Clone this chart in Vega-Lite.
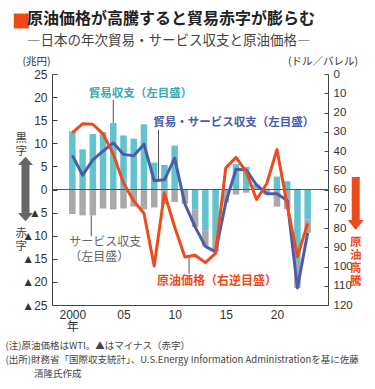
{
"$schema": "https://vega.github.io/schema/vega-lite/v6.json",
"width": 276,
"height": 231,
"autosize": {"type": "none"},
"padding": {"left": 52, "top": 74, "right": 47, "bottom": 84},
"background": "#ffffff",
"config": {
  "view": {"stroke": null},
  "font": "Noto Sans CJK JP",
  "axis": {"grid": false, "labelFont": "Liberation Sans, Noto Sans CJK JP", "titleFont": "Noto Sans CJK JP", "domainColor": "#444444", "tickColor": "#444444", "labelColor": "#333333", "titleColor": "#333333", "labelOverlap": false}
},
"title": {
  "text": "原油価格が高騰すると貿易赤字が膨らむ",
  "subtitle": "―日本の年次貿易・サービス収支と原油価格―",
  "anchor": "start", "frame": "group", "dx": -25, "offset": -34,
  "font": "Noto Sans CJK JP", "fontSize": 16, "fontWeight": "bold", "color": "#222222",
  "subtitleFont": "Noto Sans CJK JP", "subtitleFontSize": 13.5, "subtitleColor": "#444444", "subtitlePadding": 7
},
"datasets": {
  "bop": [
    {"year": 2000, "trade": 12.6, "services": -5.3, "total": 7.4, "oil": 30.4},
    {"year": 2001, "trade": 8.7, "services": -5.6, "total": 3.1, "oil": 25.9},
    {"year": 2002, "trade": 12.0, "services": -5.6, "total": 6.4, "oil": 26.1},
    {"year": 2003, "trade": 12.4, "services": -4.1, "total": 8.3, "oil": 31.1},
    {"year": 2004, "trade": 14.4, "services": -4.3, "total": 10.1, "oil": 41.5},
    {"year": 2005, "trade": 11.7, "services": -4.1, "total": 7.6, "oil": 56.6},
    {"year": 2006, "trade": 11.0, "services": -3.7, "total": 7.3, "oil": 66.0},
    {"year": 2007, "trade": 14.1, "services": -4.3, "total": 9.8, "oil": 72.3},
    {"year": 2008, "trade": 5.8, "services": -3.9, "total": 1.9, "oil": 99.7},
    {"year": 2009, "trade": 5.3, "services": -3.2, "total": 2.1, "oil": 61.9},
    {"year": 2010, "trade": 9.5, "services": -2.7, "total": 6.8, "oil": 79.5},
    {"year": 2011, "trade": -0.3, "services": -2.8, "total": -3.1, "oil": 95.1},
    {"year": 2012, "trade": -4.3, "services": -3.8, "total": -8.1, "oil": 94.2},
    {"year": 2013, "trade": -8.8, "services": -3.5, "total": -12.3, "oil": 98.0},
    {"year": 2014, "trade": -10.5, "services": -3.0, "total": -13.5, "oil": 93.2},
    {"year": 2015, "trade": -0.9, "services": -1.9, "total": -2.8, "oil": 48.7},
    {"year": 2016, "trade": 5.5, "services": -1.1, "total": 4.4, "oil": 43.3},
    {"year": 2017, "trade": 4.9, "services": -0.7, "total": 4.2, "oil": 50.8},
    {"year": 2018, "trade": 1.1, "services": -0.1, "total": 1.0, "oil": 65.2},
    {"year": 2019, "trade": 0.2, "services": -1.1, "total": -0.9, "oil": 57.0},
    {"year": 2020, "trade": 2.8, "services": -3.7, "total": -0.9, "oil": 39.2},
    {"year": 2021, "trade": 1.8, "services": -4.2, "total": -2.4, "oil": 68.1},
    {"year": 2022, "trade": -15.7, "services": -5.6, "total": -21.3, "oil": 94.9},
    {"year": 2023, "trade": -6.5, "services": -2.9, "total": -9.4, "oil": 77.6}
  ]
},
"layer": [
  {
    "layer": [
      {
        "data": {"name": "bop"},
        "transform": [{"fold": ["trade", "services"], "as": ["series", "value"]}],
        "mark": {"type": "bar", "size": 6.5},
        "encoding": {
          "x": {"field": "year", "type": "quantitative", "scale": {"domain": [1998.5, 2024.5], "nice": false, "zero": false},
            "axis": {"values": [2000, 2005, 2010, 2015, 2020], "tickCount": 30, "format": "d",
              "labelExpr": "datum.value == 2000 ? ['2000', '年'] : substring(datum.label, 2)",
              "labelFontSize": 12, "labelPadding": 4, "labelLineHeight": 12, "ticks": false, "labelFlush": false, "labelOverlap": false,
              "title": ["(注)原油価格はWTI。▲はマイナス（赤字）", "(出所)財務省「国際収支統計」、U.S.Energy  Information  Administrationを基に佐藤", "\u200b\u3000\u3000\u3000清隆氏作成"],
              "titleX": -47, "titleY": 35, "titleAlign": "left", "titleAnchor": "start", "titleBaseline": "top",
              "titleFontSize": 9.5, "titleFontWeight": "normal", "titleLineHeight": 14, "titleColor": "#444444"}},
          "y": {"field": "value", "type": "quantitative", "stack": "zero", "scale": {"domain": [-25, 25], "nice": false, "zero": false},
            "axis": {"orient": "left", "values": [-25, -20, -15, -10, -5, 0, 5, 10, 15, 20, 25], "tickCount": 30,
              "labelExpr": "datum.value < 0 ? '▲' + (-datum.value) : '' + datum.value",
              "labelOverlap": false, "labelBound": false,
              "title": "(兆円)", "titleAngle": 0, "titleX": -16, "titleY": -12.5, "titleAlign": "center", "titleBaseline": "middle",
              "titleFontSize": 10.5, "titleFontWeight": "normal", "labelFontSize": 12, "tickSize": -5, "labelPadding": 10, "labelFlush": false}},
          "color": {"field": "series", "type": "nominal", "scale": {"domain": ["trade", "services"], "range": ["#62c2cd", "#a9a9a9"]}, "legend": null},
          "order": {"field": "series", "sort": "descending"}
        }
      },
      {
        "data": {"values": [{}]},
        "mark": {"type": "rule", "color": "#555555", "strokeWidth": 1},
        "encoding": {"y": {"datum": 0, "type": "quantitative", "scale": {"domain": [-25, 25], "nice": false, "zero": false}}}
      },
      {
        "data": {"name": "bop"},
        "mark": {"type": "line", "color": "#4a5caa", "strokeWidth": 3, "strokeJoin": "round"},
        "encoding": {
          "x": {"field": "year", "type": "quantitative", "scale": {"domain": [1998.5, 2024.5], "nice": false, "zero": false}},
          "y": {"field": "total", "type": "quantitative", "scale": {"domain": [-25, 25], "nice": false, "zero": false}}
        }
      },
      {
        "data": {"values": [{}]},
        "mark": {"type": "rule", "color": "#555555", "strokeWidth": 1},
        "encoding": {
          "x": {"datum": 2004, "type": "quantitative", "scale": {"domain": [1998.5, 2024.5], "nice": false, "zero": false}},
          "y": {"datum": 19.4, "type": "quantitative", "scale": {"domain": [-25, 25], "nice": false, "zero": false}},
          "y2": {"datum": 14.4}
        }
      },
      {
        "data": {"values": [{}]},
        "mark": {"type": "rule", "color": "#555555", "strokeWidth": 1},
        "encoding": {
          "x": {"datum": 2008.42, "type": "quantitative", "scale": {"domain": [1998.5, 2024.5], "nice": false, "zero": false}},
          "y": {"datum": 12.9, "type": "quantitative", "scale": {"domain": [-25, 25], "nice": false, "zero": false}},
          "y2": {"datum": 2.0}
        }
      },
      {
        "data": {"values": [{}]},
        "mark": {"type": "rule", "color": "#555555", "strokeWidth": 1},
        "encoding": {
          "x": {"datum": 2001.85, "type": "quantitative", "scale": {"domain": [1998.5, 2024.5], "nice": false, "zero": false}},
          "y": {"datum": -5.6, "type": "quantitative", "scale": {"domain": [-25, 25], "nice": false, "zero": false}},
          "y2": {"datum": -10.1}
        }
      },
      {
        "data": {"values": [{}]},
        "mark": {"type": "rule", "color": "#555555", "strokeWidth": 1},
        "encoding": {
          "x": {"datum": 2011.41, "type": "quantitative", "scale": {"domain": [1998.5, 2024.5], "nice": false, "zero": false}},
          "y": {"datum": -14.2, "type": "quantitative", "scale": {"domain": [-25, 25], "nice": false, "zero": false}},
          "y2": {"datum": -18.3}
        }
      },
      {
        "data": {"values": [{}]},
        "mark": {"type": "text", "text": "貿易収支（左目盛）", "align": "left", "baseline": "middle", "fontSize": 11.5, "fontWeight": "bold", "color": "#3aa8b6"},
        "encoding": {
          "x": {"datum": 2001.61, "type": "quantitative", "scale": {"domain": [1998.5, 2024.5], "nice": false, "zero": false}},
          "y": {"datum": 20.67, "type": "quantitative", "scale": {"domain": [-25, 25], "nice": false, "zero": false}}
        }
      },
      {
        "data": {"values": [{}]},
        "mark": {"type": "text", "text": "貿易・サービス収支（左目盛）", "align": "left", "baseline": "middle", "fontSize": 11.5, "fontWeight": "bold", "color": "#4a5caa"},
        "encoding": {
          "x": {"datum": 2007.92, "type": "quantitative", "scale": {"domain": [1998.5, 2024.5], "nice": false, "zero": false}},
          "y": {"datum": 14.39, "type": "quantitative", "scale": {"domain": [-25, 25], "nice": false, "zero": false}}
        }
      },
      {
        "data": {"values": [{}]},
        "mark": {"type": "text", "text": ["サービス収支", "（左目盛）"], "align": "left", "baseline": "top", "fontSize": 12, "lineHeight": 15, "color": "#666666"},
        "encoding": {
          "x": {"datum": 1999.7, "type": "quantitative", "scale": {"domain": [1998.5, 2024.5], "nice": false, "zero": false}},
          "y": {"datum": -10.28, "type": "quantitative", "scale": {"domain": [-25, 25], "nice": false, "zero": false}}
        }
      },
      {
        "data": {"values": [{}]},
        "mark": {"type": "text", "text": "原油価格（右逆目盛）", "align": "left", "baseline": "middle", "fontSize": 12, "fontWeight": "bold", "color": "#ee4b1c"},
        "encoding": {
          "x": {"datum": 2008.27, "type": "quantitative", "scale": {"domain": [1998.5, 2024.5], "nice": false, "zero": false}},
          "y": {"datum": -19.74, "type": "quantitative", "scale": {"domain": [-25, 25], "nice": false, "zero": false}}
        }
      },
      {
        "data": {"values": [{}]},
        "mark": {"type": "rule", "color": "#666666", "strokeWidth": 8},
        "encoding": {
          "x": {"datum": 1995.42, "type": "quantitative", "scale": {"domain": [1998.5, 2024.5], "nice": false, "zero": false}},
          "y": {"datum": 5.4, "type": "quantitative", "scale": {"domain": [-25, 25], "nice": false, "zero": false}},
          "y2": {"datum": -5.2}
        }
      },
      {
        "data": {"values": [{}]},
        "mark": {"type": "point", "shape": "M-1,0L0,-1.1L1,0Z", "size": 225, "filled": true, "opacity": 1, "color": "#666666", "strokeWidth": 0},
        "encoding": {
          "x": {"datum": 1995.42, "type": "quantitative", "scale": {"domain": [1998.5, 2024.5], "nice": false, "zero": false}},
          "y": {"datum": 5.3, "type": "quantitative", "scale": {"domain": [-25, 25], "nice": false, "zero": false}}
        }
      },
      {
        "data": {"values": [{}]},
        "mark": {"type": "point", "shape": "M-1,0L0,1.1L1,0Z", "size": 225, "filled": true, "opacity": 1, "color": "#666666", "strokeWidth": 0},
        "encoding": {
          "x": {"datum": 1995.42, "type": "quantitative", "scale": {"domain": [1998.5, 2024.5], "nice": false, "zero": false}},
          "y": {"datum": -5.09, "type": "quantitative", "scale": {"domain": [-25, 25], "nice": false, "zero": false}}
        }
      },
      {
        "data": {"values": [{}]},
        "mark": {"type": "text", "text": ["黒", "字"], "align": "center", "baseline": "top", "fontSize": 11.5, "lineHeight": 13, "color": "#444444"},
        "encoding": {
          "x": {"datum": 1995.0, "type": "quantitative", "scale": {"domain": [1998.5, 2024.5], "nice": false, "zero": false}},
          "y": {"datum": 12.2, "type": "quantitative", "scale": {"domain": [-25, 25], "nice": false, "zero": false}}
        }
      },
      {
        "data": {"values": [{}]},
        "mark": {"type": "text", "text": ["赤", "字"], "align": "center", "baseline": "top", "fontSize": 11.5, "lineHeight": 13, "color": "#444444"},
        "encoding": {
          "x": {"datum": 1995.0, "type": "quantitative", "scale": {"domain": [1998.5, 2024.5], "nice": false, "zero": false}},
          "y": {"datum": -8.33, "type": "quantitative", "scale": {"domain": [-25, 25], "nice": false, "zero": false}}
        }
      },
      {
        "data": {"values": [{}]},
        "mark": {"type": "rule", "color": "#ee4b1c", "strokeWidth": 8},
        "encoding": {
          "x": {"datum": 2027.7, "type": "quantitative", "scale": {"domain": [1998.5, 2024.5], "nice": false, "zero": false}},
          "y": {"datum": 2.71, "type": "quantitative", "scale": {"domain": [-25, 25], "nice": false, "zero": false}},
          "y2": {"datum": -6.7}
        }
      },
      {
        "data": {"values": [{}]},
        "mark": {"type": "point", "shape": "M-1,0L0,1.25L1,0Z", "size": 256, "filled": true, "opacity": 1, "color": "#ee4b1c", "strokeWidth": 0},
        "encoding": {
          "x": {"datum": 2027.7, "type": "quantitative", "scale": {"domain": [1998.5, 2024.5], "nice": false, "zero": false}},
          "y": {"datum": -6.6, "type": "quantitative", "scale": {"domain": [-25, 25], "nice": false, "zero": false}}
        }
      },
      {
        "data": {"values": [{}]},
        "mark": {"type": "text", "text": ["原", "油", "高", "騰"], "align": "center", "baseline": "top", "fontSize": 11.5, "lineHeight": 13, "fontWeight": "bold", "color": "#ee4b1c"},
        "encoding": {
          "x": {"datum": 2027.7, "type": "quantitative", "scale": {"domain": [1998.5, 2024.5], "nice": false, "zero": false}},
          "y": {"datum": -10.28, "type": "quantitative", "scale": {"domain": [-25, 25], "nice": false, "zero": false}}
        }
      },
      {
        "data": {"values": [{}]},
        "mark": {"type": "point", "shape": "square", "size": 225, "filled": true, "opacity": 1, "color": "#ee4a14", "strokeWidth": 0},
        "encoding": {
          "x": {"datum": 1995.01, "type": "quantitative", "scale": {"domain": [1998.5, 2024.5], "nice": false, "zero": false}},
          "y": {"datum": 36.47, "type": "quantitative", "scale": {"domain": [-25, 25], "nice": false, "zero": false}}
        }
      }
    ]
  },
  {
    "data": {"name": "bop"},
    "mark": {"type": "line", "color": "#ee4b1c", "strokeWidth": 3, "strokeJoin": "round"},
    "encoding": {
      "x": {"field": "year", "type": "quantitative", "scale": {"domain": [1998.5, 2024.5], "nice": false, "zero": false}},
      "y": {"field": "oil", "type": "quantitative", "scale": {"domain": [0, 120], "reverse": true, "nice": false, "zero": false},
        "axis": {"orient": "right", "values": [0, 10, 20, 30, 40, 50, 60, 70, 80, 90, 100, 110, 120], "tickCount": 30, "format": "d",
          "title": "(ドル／バレル)", "titleAngle": 0, "titleX": -5.5, "titleY": -12.5, "titleAlign": "center", "titleBaseline": "middle",
          "titleFontSize": 10.5, "titleFontWeight": "normal", "labelFontSize": 11.5, "tickSize": -4, "labelPadding": 9, "labelFlush": false}}
    }
  }
],
"resolve": {"scale": {"y": "independent"}}
}
